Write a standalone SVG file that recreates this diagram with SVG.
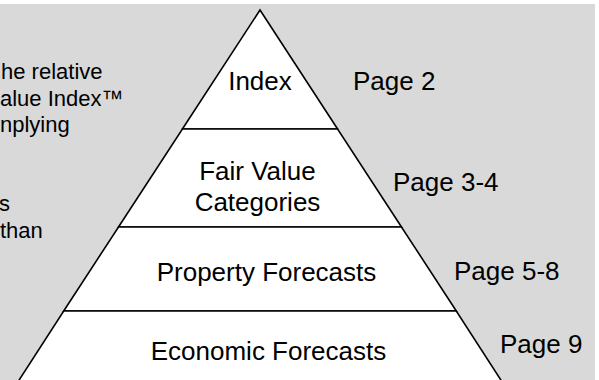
<svg xmlns="http://www.w3.org/2000/svg" width="599" height="380" viewBox="0 0 599 380">
  <style>
    .tier { fill: #ffffff; stroke: #000000; stroke-width: 1.6; stroke-linejoin: miter; }
    .label { font-family: "Liberation Sans", Arial, sans-serif; font-size: 26px; fill: #000000; }
    .mid { text-anchor: middle; }
    .note { font-family: "Liberation Sans", Arial, sans-serif; font-size: 22px; fill: #000000; }
  </style>

  <!-- page background -->
  <rect x="0" y="0" width="599" height="380" fill="#ffffff"/>
  <rect x="0" y="4" width="595" height="376" fill="#d9d9d9"/>

  <!-- explanatory paragraph, running in from the left edge -->
  <g id="side-note">
    <text class="note" x="1" y="79">he relative</text>
    <text class="note" x="0" y="105.5">alue Index™</text>
    <text class="note" x="0" y="132">nplying</text>
    <text class="note" x="-1" y="211">s</text>
    <text class="note" x="0" y="238">than</text>
  </g>

  <!-- pyramid tiers, top to bottom -->
  <g id="tier-index">
    <polygon class="tier" points="260,10 337.6,129 182.4,129"/>
    <text class="label mid" x="260" y="90">Index</text>
  </g>
  <g id="tier-fair-value">
    <polygon class="tier" points="182.4,129 337.6,129 401.5,227 118.5,227"/>
    <text class="label mid" x="257.5" y="180">Fair Value</text>
    <text class="label mid" x="257.5" y="211">Categories</text>
  </g>
  <g id="tier-property">
    <polygon class="tier" points="118.5,227 401.5,227 456.3,311 63.7,311"/>
    <text class="label mid" x="266.5" y="281">Property Forecasts</text>
  </g>
  <g id="tier-economic">
    <polygon class="tier" points="63.7,311 456.3,311 502.8,383 17.2,383"/>
    <text class="label mid" x="268.5" y="360">Economic Forecasts</text>
  </g>

  <!-- page references beside each tier -->
  <g id="page-refs">
    <text class="label" x="353" y="90">Page 2</text>
    <text class="label" x="393" y="191">Page 3-4</text>
    <text class="label" x="454" y="280">Page 5-8</text>
    <text class="label" x="500" y="353">Page 9</text>
  </g>
</svg>
